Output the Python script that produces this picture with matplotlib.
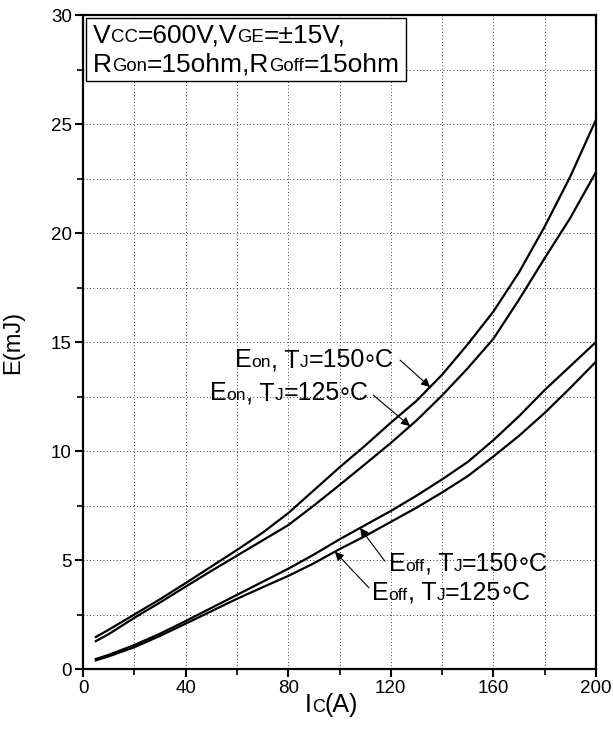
import numpy as np
import matplotlib
matplotlib.use("Agg")
import matplotlib.pyplot as plt
from matplotlib.patches import Rectangle
from matplotlib.ticker import MultipleLocator

plt.rcParams['font.family'] = ['Liberation Sans', 'DejaVu Sans']

# collector current (A)
ic = [5, 10, 20, 30, 40, 50, 60, 70, 80, 90, 100,
      110, 120, 130, 140, 150, 160, 170, 180, 190, 200]
# switching energies (mJ)
eon_150 = [1.47, 1.8, 2.5, 3.2, 3.94, 4.7, 5.46, 6.25, 7.15, 8.2, 9.25,
           10.25, 11.3, 12.3, 13.5, 14.9, 16.4, 18.2, 20.3, 22.6, 25.2]
eon_125 = [1.28, 1.6, 2.35, 3.05, 3.78, 4.5, 5.2, 5.9, 6.6, 7.5, 8.44,
           9.4, 10.37, 11.4, 12.55, 13.8, 15.15, 16.95, 18.85, 20.7, 22.8]
eoff_150 = [0.46, 0.65, 1.1, 1.62, 2.2, 2.8, 3.4, 4.0, 4.6, 5.25, 5.95,
            6.6, 7.25, 7.95, 8.7, 9.5, 10.5, 11.6, 12.8, 13.9, 15.0]
eoff_125 = [0.4, 0.58, 1.0, 1.52, 2.08, 2.65, 3.22, 3.75, 4.27, 4.85, 5.5,
            6.1, 6.75, 7.4, 8.1, 8.85, 9.75, 10.7, 11.75, 12.9, 14.1]

BOX_BIG, BOX_SMALL = 19, 13.4
LAB_BIG, LAB_SMALL = 18, 12.5
DESC = 0.21  # approx descent fraction of the font


def rich_text(ax, x, y, pieces, coords='data'):
    # pieces: (text, size) or (text, size, raise_pts), all on one baseline
    pieces = [p if len(p) == 3 else (p[0], p[1], 0) for p in pieces]
    tr = ax.transData if coords == 'data' else ax.transAxes
    s0, size0, r0 = pieces[0]
    prev = ax.text(x, y, s0, fontsize=size0, ha='left',
                   va='baseline', transform=tr, zorder=4)
    prev_size, prev_r = size0, r0
    for s, size, r in pieces[1:]:
        dy = DESC * (prev_size - size) + (r - prev_r)
        prev = ax.annotate(s, xy=(1, 0), xycoords=prev, xytext=(0, dy),
                           textcoords='offset points', fontsize=size,
                           ha='left', va='bottom', zorder=4)
        prev_size, prev_r = size, r
    return prev


def label_curve(ax, txt_xy, tail_xy, tip_x, xs, ys, name, temp):
    tip = (tip_x, np.interp(tip_x, xs, ys))
    ax.annotate('', xy=tip, xytext=tail_xy,
                arrowprops=dict(arrowstyle='-|>', color='k', lw=0.8,
                                mutation_scale=13, shrinkA=0, shrinkB=0))
    rich_text(ax, txt_xy[0], txt_xy[1],
              [('E', LAB_BIG), (name, LAB_SMALL), (', T', LAB_BIG),
               ('J', LAB_SMALL), ('=' + temp, LAB_BIG),
               ('\u00b0', LAB_BIG, -4.0), ('C', LAB_BIG)])


fig = plt.figure(figsize=(6.13, 7.40), dpi=100)
ax = fig.add_axes([0.1354, 0.0959, 0.8369, 0.8838])

for ys in (eon_150, eon_125, eoff_150, eoff_125):
    ax.plot(ic, ys, color='k', lw=1.6)

ax.set_xlim(0, 200)
ax.set_ylim(0, 30)
ax.xaxis.set_major_locator(MultipleLocator(40))
ax.xaxis.set_minor_locator(MultipleLocator(20))
ax.yaxis.set_major_locator(MultipleLocator(5))
ax.yaxis.set_minor_locator(MultipleLocator(2.5))
ax.grid(which='both', color='k', ls=(0, (1, 3)), lw=0.6)
ax.tick_params(which='major', direction='out', length=6, width=1.5,
               labelsize=13.5, pad=2)
ax.tick_params(which='minor', direction='out', length=4, width=1.2)
for sp in ax.spines.values():
    sp.set_linewidth(1.6)

ax.set_ylabel('E(mJ)', fontsize=17)
ax.yaxis.set_label_coords(-0.115, 0.5)
# x label with the small C
rich_text(ax, 0.433, -0.066, [('I', 18), ('C', 13), ('(A)', 18)], coords='axes')

# condition box
ax.add_patch(Rectangle((0.006, 0.899), 0.624, 0.096, transform=ax.transAxes,
                       facecolor='white', edgecolor='k', lw=1.0, zorder=3))
rich_text(ax, 3.9, 28.72, [('V', BOX_BIG), ('CC', BOX_SMALL), ('=600V,V', BOX_BIG),
                           ('GE', BOX_SMALL), ('=\u00b115V,', BOX_BIG)])
rich_text(ax, 3.9, 27.39, [('R', BOX_BIG), ('Gon', BOX_SMALL), ('=15ohm,R', BOX_BIG),
                           ('Goff', BOX_SMALL), ('=15ohm', BOX_BIG)])

label_curve(ax, (59.3, 13.85), (123.6, 14.17), 135.3, ic, eon_150, 'on', '150')
label_curve(ax, (49.5, 12.34), (113.1, 12.57), 127.5, ic, eon_125, 'on', '125')
label_curve(ax, (119.3, 4.5), (117.7, 4.95), 108.0, ic, eoff_150, 'off', '150')
label_curve(ax, (112.7, 3.17), (111.5, 3.72), 98.2, ic, eoff_125, 'off', '125')

fig.savefig('out.png', dpi=100)
